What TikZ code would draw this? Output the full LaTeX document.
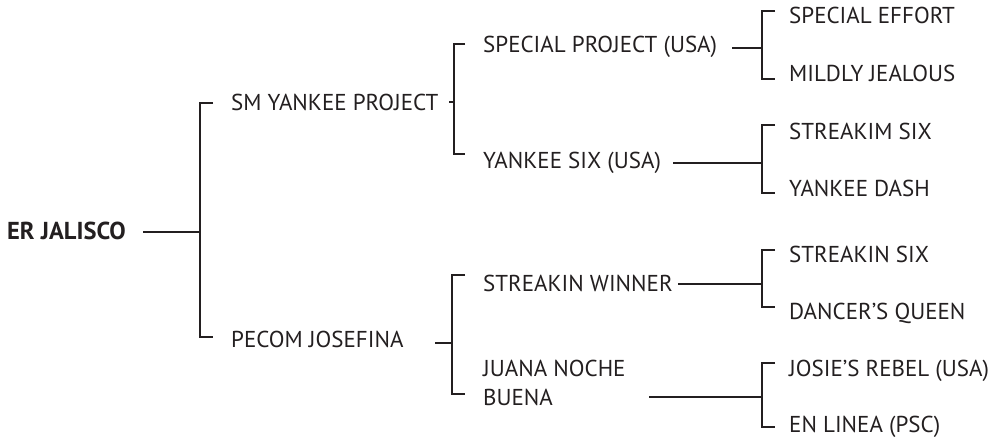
\documentclass[tikz,border=0pt]{standalone}
\usepackage{fontspec}
\setmainfont{PT Sans}
\definecolor{ink}{HTML}{231F20}
\tikzset{
  horse/.style={anchor=base west, inner sep=0pt, text=ink, font=\fontsize{23}{29}\selectfont},
  roothorse/.style={horse, font=\fontsize{24.5}{29}\selectfont\bfseries},
  conn/.style={draw=ink, line width=2.6pt},
}
\begin{document}
\begin{tikzpicture}[x=1pt,y=-1pt]
\useasboundingbox (0,0) rectangle (1001,437);
% names
\node[roothorse] (root) at (7,239) {ER JALISCO};
\node[horse] (s) at (231,110) {SM YANKEE PROJECT};
\node[horse] (d) at (231,347) {PECOM JOSEFINA};
\node[horse] (ss) at (483,52) {SPECIAL PROJECT (USA)};
\node[horse] (sd) at (483,168) {YANKEE SIX (USA)};
\node[horse] (ds) at (483,291) {STREAKIN WINNER};
\node[horse, align=left] (dd) at (483,405) {JUANA NOCHE\\BUENA};
\node[horse] (sss) at (789,23) {SPECIAL EFFORT};
\node[horse] (ssd) at (789,81) {MILDLY JEALOUS};
\node[horse] (sds) at (789,139) {STREAKIM SIX};
\node[horse] (sdd) at (789,196) {YANKEE DASH};
\node[horse] (dss) at (789,262) {STREAKIN SIX};
\node[horse] (dsd) at (789,319) {DANCER'S QUEEN};
\node[horse] (dds) at (789,376) {JOSIE'S REBEL (USA)};
\node[horse] (ddd) at (789,432) {EN LINEA (PSC)};
% connector coordinates
\coordinate (r0) at (143,232); \coordinate (r1) at (200,232);
\coordinate (rt) at (213,103); \coordinate (rb) at (213,337);
\coordinate (s0) at (449,102); \coordinate (s1) at (454,102);
\coordinate (st) at (465,44);  \coordinate (sb) at (465,154);
\coordinate (d0) at (435,343); \coordinate (d1) at (452,343);
\coordinate (dt) at (465,275); \coordinate (db) at (465,394);
\coordinate (ss0) at (732,48);  \coordinate (ss1) at (762,48);
\coordinate (sst) at (775,11);  \coordinate (ssb) at (775,79);
\coordinate (sd0) at (673,163); \coordinate (sd1) at (762,163);
\coordinate (sdt) at (775,125); \coordinate (sdb) at (775,193);
\coordinate (ds0) at (678,284); \coordinate (ds1) at (762,284);
\coordinate (dst) at (775,250); \coordinate (dsb) at (775,307);
\coordinate (dd0) at (649,397); \coordinate (dd1) at (762,397);
\coordinate (ddt) at (775,363); \coordinate (ddb) at (775,427);
% connectors
\foreach \n in {r,s,d,ss,sd,ds,dd}{
  \draw[conn] (\n0) -- (\n1);
  \draw[conn] (\n t) -- (\n t -| \n1) -- (\n b -| \n1) -- (\n b);
}
\end{tikzpicture}
\end{document}
